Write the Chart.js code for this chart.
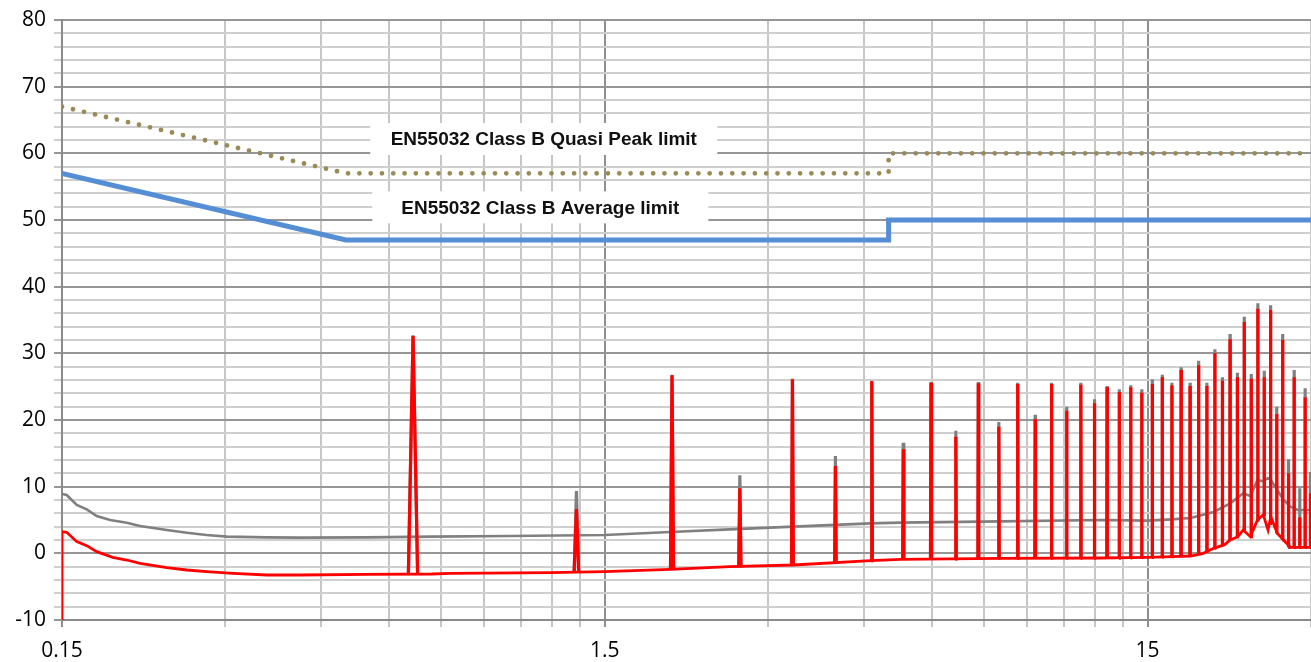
<!DOCTYPE html>
<html>
<head>
<meta charset="utf-8">
<script src="https://cdn.jsdelivr.net/npm/chart.js@4.4.1/dist/chart.umd.min.js"></script>
<style>
    html, body { margin: 0; padding: 0; background: #fff; }
    #wrap { position: relative; width: 1311px; height: 662px; }
</style>
</head>
<body>
<div id="wrap"><canvas id="emcChart"></canvas></div>
<script>
// frequency axis (MHz), log scale
var xGrid = [0.15, 0.3, 0.45, 0.6, 0.75, 0.9, 1.05, 1.2, 1.35,
             1.5, 3, 4.5, 6, 7.5, 9, 10.5, 12, 13.5, 15, 30];
var xLabelled = [0.15, 1.5, 15];

// EN55032 class B limits (dBuV)
var qpFreq = [0.15, 0.5, 5, 5, 30];
var qpLimit = [67, 57, 57, 60, 60];
var avgFreq = [0.15, 0.5, 5, 5, 30];
var avgLimit = [57, 47, 47, 50, 50];

// noise floor, grey trace
var grayFreq = [0.15, 0.153, 0.1597, 0.1666, 0.1738, 0.184, 0.1974, 0.2089, 0.234, 0.2547,
                0.277, 0.302, 0.358, 0.412, 0.547, 0.72, 1.0, 1.5, 1.98, 2.55,
                3.34, 4.63, 5.26, 8.04, 12.3, 15, 16.6, 18.0, 19.85, 21.3,
                22.5, 23.2, 23.9, 24.5, 25.0, 25.3, 26.0, 26.7, 27.5, 28.35, 30];
var grayLevel = [8.9, 8.75, 7.25, 6.6, 5.6, 5.0, 4.6, 4.1, 3.5, 3.1,
                 2.75, 2.5, 2.4, 2.35, 2.4, 2.5, 2.6, 2.75, 3.2, 3.6,
                 4.0, 4.5, 4.6, 4.8, 5.0, 4.9, 5.1, 5.3, 6.2, 7.5,
                 9.0, 8.6, 11.0, 10.8, 11.3, 11.0, 9.5, 8.0, 7.0, 6.5, 6.5];

// noise floor, red trace
var redFreq = [0.15, 0.15, 0.153, 0.1597, 0.1666, 0.1738, 0.186, 0.1974, 0.2089, 0.234,
               0.2547, 0.277, 0.31, 0.358, 0.412, 0.547, 0.72, 0.778, 1.19, 1.5,
               1.98, 2.55, 3.34, 4.63, 5.26, 8.04, 12.3, 15, 16.6, 18.0,
               19.0, 19.85, 20.8, 21.3, 22.0, 22.5, 23.2, 23.9, 24.5, 25.0,
               25.3, 26.0, 26.7, 27.5, 28.35, 30];
var redLevel = [-10, 3.25, 3.15, 1.75, 1.15, 0.25, -0.6, -1.0, -1.5, -2.15,
                -2.5, -2.75, -3.0, -3.25, -3.25, -3.15, -3.1, -3.0, -2.9, -2.75,
                -2.4, -2.0, -1.75, -1.1, -0.9, -0.75, -0.7, -0.6, -0.5, -0.4,
                0.0, 0.75, 1.3, 2.0, 2.5, 3.5, 2.5, 5.0, 5.8, 3.5,
                5.5, 3.0, 2.0, 0.9, 0.9, 0.9];

// harmonic spikes
var spikeFreq = [0.665, 1.33, 1.995, 2.66, 3.325, 3.99, 4.655, 5.32, 5.985, 6.65,
                 7.315, 7.98, 8.645, 9.31, 9.975, 10.64, 11.3, 11.97, 12.63, 13.3,
                 13.96, 14.63, 15.3, 15.96, 16.63, 17.29, 17.96, 18.62, 19.29, 19.95,
                 20.6, 21.28, 21.95, 22.6, 23.28, 23.94, 24.6, 25.27, 25.94, 26.6,
                 27.27, 27.93, 28.6, 29.26, 29.93];
var spikeGray = [32.7, 9.35, 26.8, 11.7, 26.2, 14.6, 25.9, 16.6, 25.7, 18.4,
                 25.7, 19.7, 25.6, 20.8, 25.6, 22.0, 25.6, 23.1, 25.1, 24.6,
                 25.2, 24.6, 26.1, 26.8, 25.6, 27.9, 25.6, 28.9, 25.6, 30.6,
                 26.4, 32.9, 27.1, 35.5, 26.9, 37.5, 27.4, 37.2, 22.0, 32.9,
                 14.1, 27.5, 9.75, 24.75, 12.2];
var spikeRed = [32.6, 6.65, 26.7, 9.75, 26.1, 13.1, 25.8, 15.6, 25.6, 17.5,
                25.5, 19.0, 25.4, 20.1, 25.4, 21.4, 25.3, 22.5, 24.9, 24.2,
                24.9, 24.1, 25.4, 26.4, 25.2, 27.5, 25.1, 28.2, 25.1, 30.0,
                25.9, 32.1, 26.4, 34.7, 26.2, 36.7, 26.4, 36.5, 20.9, 32.0,
                12.0, 26.4, 5.4, 23.4, 9.0];
var spikeFoot = [-3.1, -2.9, -2.4, -2.1, -1.75, -1.3, -1.1, -1.0, -0.9, -0.85,
                 -0.8, -0.75, -0.75, -0.7, -0.7, -0.7, -0.7, -0.7, -0.7, -0.7,
                 -0.65, -0.6, -0.6, -0.55, -0.5, -0.4, -0.3, 0.0, 0.3, 0.8,
                 1.3, 2.0, 2.5, 3.5, 2.5, 5.0, 5.8, 4.5, 3.0, 2.0,
                 0.9, 0.9, 0.9, 0.9, 0.9];

var labelBoxes = [
    { text: 'EN55032 Class B Quasi Peak limit', x: 1.158, y: 62.15, w: 347, h: 32 },
    { text: 'EN55032 Class B Average limit', x: 1.141, y: 51.9, w: 336, h: 32 }
];

function pairs(fs, vs) {
    return fs.map(function (f, i) { return { x: f, y: vs[i] }; });
}

// each spike: foot - peak - foot, then a gap
var spikeHalf = 0.013;
function spikes(peaks) {
    var pts = [];
    spikeFreq.forEach(function (f, i) {
        pts.push({ x: f - spikeHalf, y: spikeFoot[i] });
        pts.push({ x: f, y: peaks[i] });
        pts.push({ x: f + spikeHalf, y: spikeFoot[i] });
        pts.push({ x: f + spikeHalf * 1.01, y: null });
    });
    return pts;
}

var labelPlugin = {
    id: 'limitLabels',
    afterDatasetsDraw: function (chart) {
        var ctx = chart.ctx;
        var xs = chart.scales.x, ys = chart.scales.y;
        ctx.save();
        labelBoxes.forEach(function (b) {
            var cx = xs.getPixelForValue(b.x), cy = ys.getPixelForValue(b.y);
            ctx.fillStyle = '#ffffff';
            ctx.fillRect(cx - b.w / 2, cy - b.h / 2, b.w, b.h);
            ctx.fillStyle = '#111111';
            ctx.font = 'bold 19px "Liberation Sans", Arial, sans-serif';
            ctx.textAlign = 'center';
            ctx.textBaseline = 'middle';
            ctx.fillText(b.text, cx, cy + 1);
        });
        ctx.restore();
    }
};

function isLabelled(v) {
    return xLabelled.some(function (l) { return Math.abs(l - v) < 1e-6; });
}

new Chart(document.getElementById('emcChart').getContext('2d'), {
    type: 'line',
    data: {
        datasets: [
            { data: spikes(spikeRed), borderColor: '#ff0000', borderWidth: 3.2, pointRadius: 0, spanGaps: false, order: 0 },
            { data: pairs(redFreq, redLevel), borderColor: '#ff0000', borderWidth: 2.8, pointRadius: 0, order: 1 },
            { data: spikes(spikeGray), borderColor: '#808080', borderWidth: 3.2, pointRadius: 0, spanGaps: false, order: 2 },
            { data: pairs(grayFreq, grayLevel), borderColor: '#808080', borderWidth: 2.6, pointRadius: 0, order: 3 },
            { data: pairs(avgFreq, avgLimit), borderColor: '#558ed5', borderWidth: 5, pointRadius: 0, order: 4 },
            { data: pairs(qpFreq, qpLimit), borderColor: '#998b57', borderWidth: 4.8, borderDash: [0, 11.3],
              borderCapStyle: 'round', pointRadius: 0, order: 5 }
        ]
    },
    options: {
        responsive: true,
        maintainAspectRatio: false,
        animation: false,
        layout: { padding: { top: 20, right: 0, left: 0, bottom: 0 } },
        plugins: { legend: { display: false }, tooltip: { enabled: false } },
        scales: {
            x: {
                type: 'logarithmic',
                min: 0.15,
                max: 30,
                afterBuildTicks: function (scale) {
                    scale.ticks = xGrid.map(function (v) { return { value: v }; });
                },
                afterFit: function (scale) {
                    scale.height = 42;
                    scale.paddingLeft = 0;
                    scale.paddingRight = 0;
                },
                border: { color: '#8a8a8a', width: 2 },
                grid: {
                    lineWidth: 2,
                    tickLength: 7,
                    color: function (c) { return c.tick && isLabelled(c.tick.value) ? '#8f8f8f' : '#c6c6c6'; }
                },
                ticks: {
                    autoSkip: false,
                    maxRotation: 0,
                    padding: 11,
                    color: '#000',
                    font: { family: '"Open Sans", sans-serif', size: 21 },
                    callback: function (v) { return isLabelled(v) ? String(v) : ''; }
                }
            },
            y: {
                min: -10,
                max: 80,
                afterFit: function (scale) {
                    scale.width = 62;
                    scale.paddingTop = 0;
                    scale.paddingBottom = 0;
                },
                border: { color: '#8a8a8a', width: 2 },
                grid: {
                    lineWidth: 2,
                    tickLength: 8,
                    color: function (c) { return c.tick && c.tick.value % 10 === 0 ? '#969696' : '#cfcfcf'; }
                },
                ticks: {
                    stepSize: 2,
                    autoSkip: false,
                    padding: 8,
                    color: '#000',
                    font: { family: '"Open Sans", sans-serif', size: 21 },
                    callback: function (v) { return v % 10 === 0 ? String(v) : ''; }
                }
            }
        }
    },
    plugins: [labelPlugin]
});
</script>
</body>
</html>
